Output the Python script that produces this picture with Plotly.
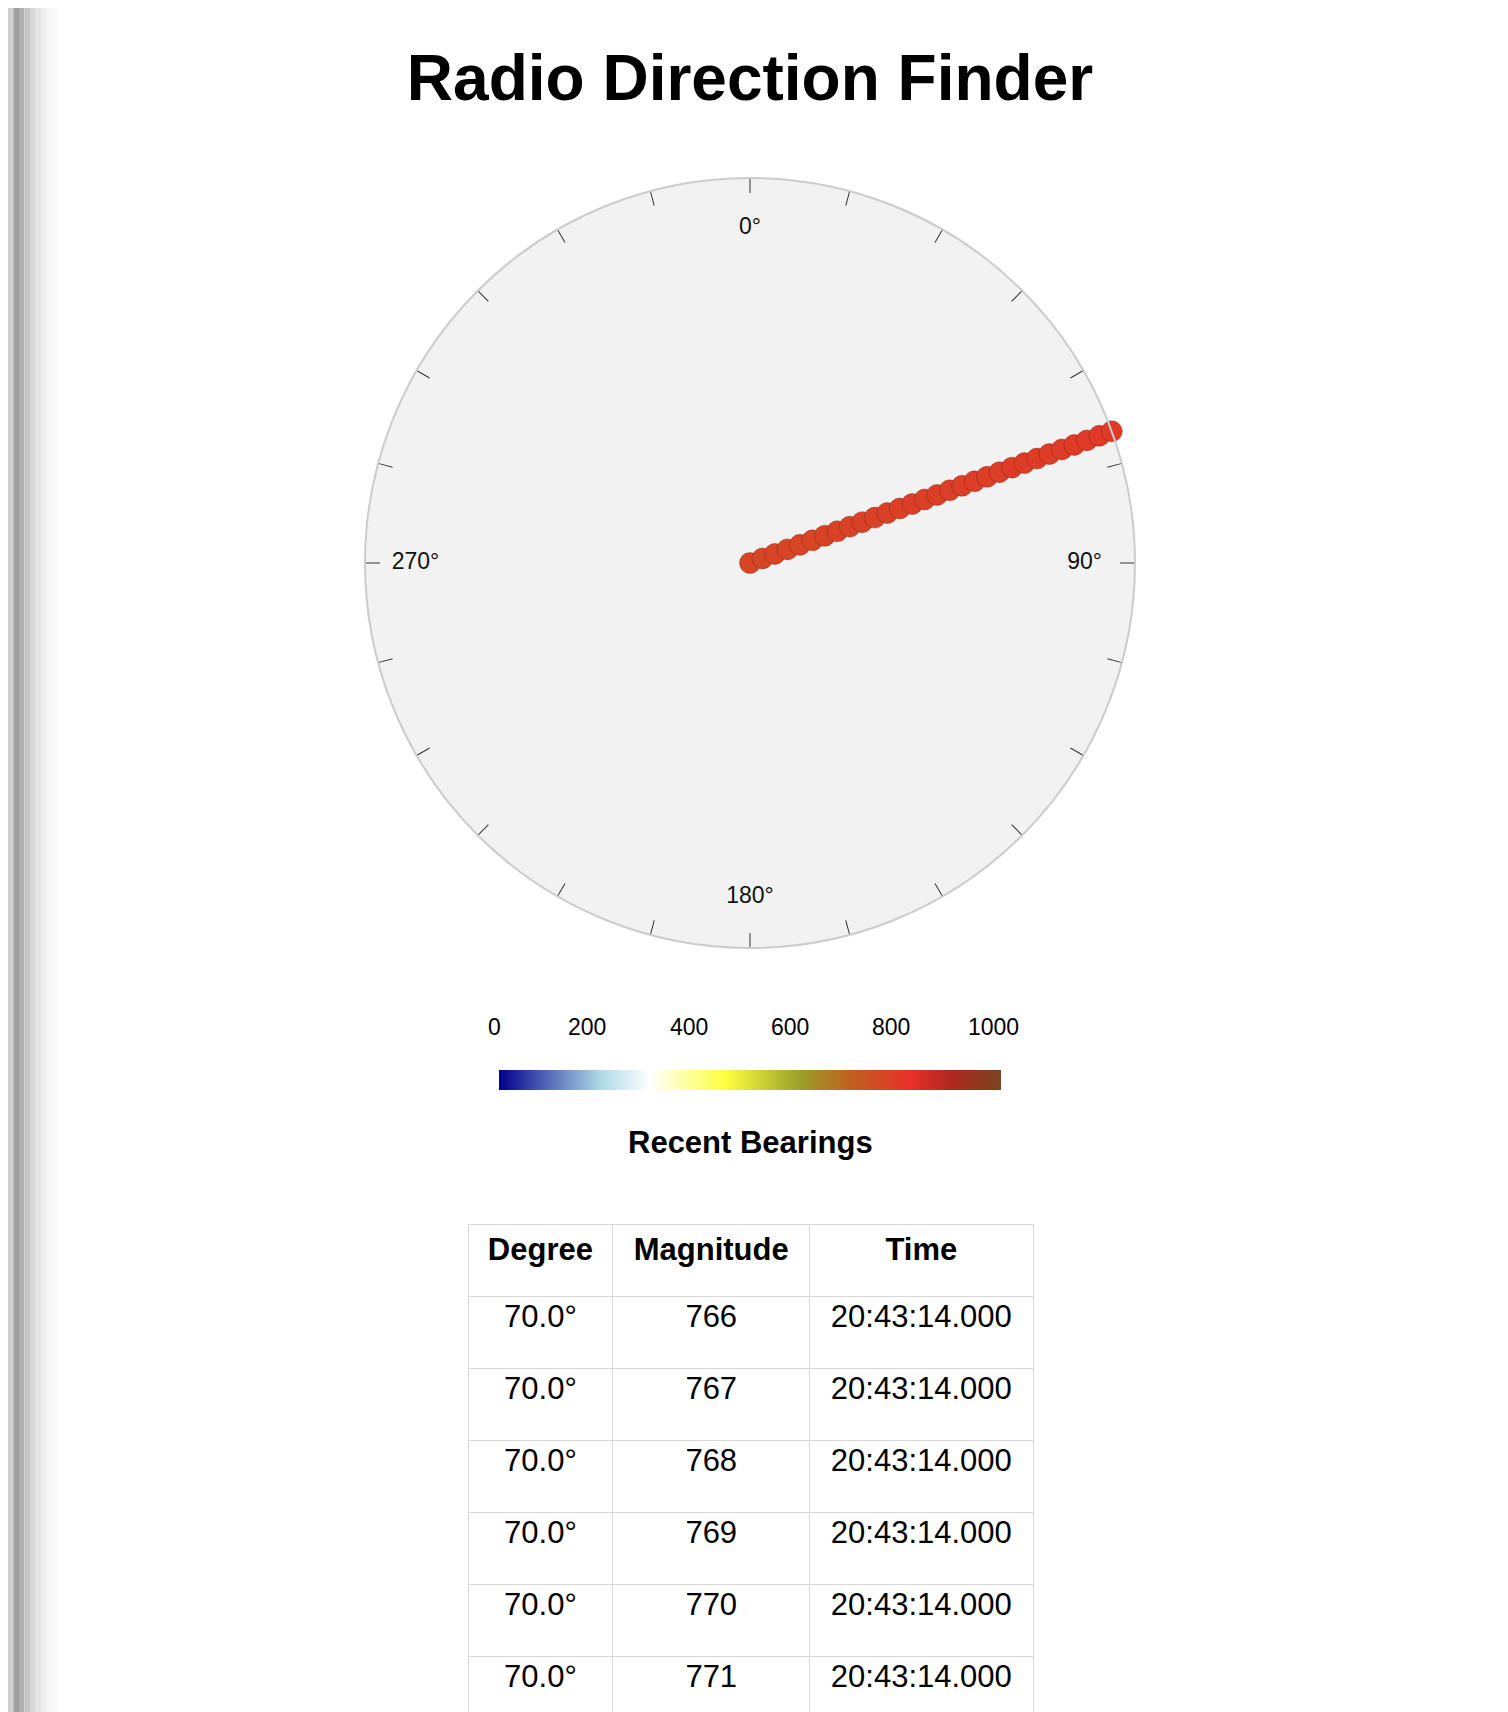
import plotly.graph_objects as go

# --- data ---
bearing_deg = 70.0
marker_r = [0, 1, 2, 3, 4, 5, 6, 7, 8, 9, 10, 11, 12, 13, 14, 15, 16, 17, 18, 19,
            20, 21, 22, 23, 24, 25, 26, 27, 28, 29]
marker_mag = [766, 767, 768, 769, 770, 771, 772, 773, 774, 775, 776, 777, 778, 779, 780,
              781, 782, 783, 784, 785, 786, 787, 788, 789, 790, 791, 792, 793, 794, 795]
cardinal_angles = [0, 90, 180, 270]
cardinal_labels = ["0°", "90°", "180°", "270°"]
cbar_ticks = ["0", "200", "400", "600", "800", "1000"]

tbl_header = ["Degree", "Magnitude", "Time"]
tbl_degree = ["70.0°", "70.0°", "70.0°", "70.0°", "70.0°", "70.0°"]
tbl_mag = ["766", "767", "768", "769", "770", "771"]
tbl_time = ["20:43:14.000"] * 6

W, H = 1508, 1712
FONT = "Arial, Liberation Sans, sans-serif"

cscale = [
    [0.0, "#00008b"], [0.2, "#add8e6"], [0.3, "#ffffff"], [0.45, "#ffff40"],
    [0.6, "#9aa02a"], [0.7, "#c06020"], [0.82, "#e8302a"], [0.9, "#b02820"],
    [1.0, "#7a4520"],
]

fig = go.Figure()

fig.add_trace(go.Scatterpolar(
    r=marker_r, theta=[bearing_deg] * len(marker_r), mode="markers",
    marker=dict(size=21, color=marker_mag, colorscale=cscale, cmin=0, cmax=1000,
                line=dict(width=1, color="rgba(120,30,10,0.4)"),
                colorbar=dict(orientation="h", x=742 / W, xanchor="center",
                              y=1 - 1072 / H, yanchor="middle",
                              lenmode="pixels", len=522, thickness=20,
                              outlinewidth=0, showticklabels=False, ticks="")),
    showlegend=False, hoverinfo="skip"))

fig.add_trace(go.Scatterpolar(
    r=[25.2] * 4, theta=cardinal_angles, mode="text", text=cardinal_labels,
    textfont=dict(size=23, color="#111", family=FONT),
    showlegend=False, hoverinfo="skip"))

fig.add_trace(go.Table(
    domain=dict(x=[460 / W, 1025 / W], y=[0, 1 - 1216 / H]),
    columnwidth=[131, 178, 202],
    header=dict(values=["<b>%s</b>" % h for h in tbl_header], height=72,
                fill_color="white", line_color="#d8d8d8",
                font=dict(size=31, color="black", family=FONT), align="center"),
    cells=dict(values=[tbl_degree, tbl_mag, tbl_time], height=72,
               fill_color="white", line_color="#d8d8d8",
               font=dict(size=31, color="black", family=FONT), align="center"),
))

annotations = [
    dict(text="<b>Recent Bearings</b>", x=742 / W, y=1 - 1154 / H, xref="paper", yref="paper",
         showarrow=False, font=dict(size=31, color="black", family=FONT)),
]
for lab, px in zip(cbar_ticks, [478, 579, 681, 782, 883, 985]):
    annotations.append(dict(text=lab, x=px / W, y=1 - 1019 / H, xref="paper", yref="paper",
                            showarrow=False, font=dict(size=23, color="black", family=FONT)))

# left page shadow
shapes = []
shades = ["#d0d0d0", "#a0a0a0", "#b0b0b0", "#c4c4c4", "#d6d6d6", "#e4e4e4", "#eeeeee", "#f6f6f6", "#fbfbfb"]
for i, c in enumerate(shades):
    shapes.append(dict(type="rect", xref="paper", yref="paper", x0=i * 5.5 / W,
                       x1=(i + 1) * 5.5 / W, y0=0, y1=1, fillcolor=c, line_width=0,
                       layer="below"))

fig.update_layout(
    width=W, height=H, margin=dict(l=0, r=0, t=0, b=0),
    paper_bgcolor="white", font=dict(family=FONT),
    title=dict(text="<b>Radio Direction Finder</b>", x=742 / W, xanchor="center",
               y=1 - 70 / H, yanchor="middle", font=dict(size=64, color="black")),
    polar=dict(
        domain=dict(x=[357 / W, 1127 / W], y=[1 - 940 / H, 1 - 170 / H]),
        bgcolor="#f2f2f2",
        angularaxis=dict(rotation=90, direction="clockwise", dtick=15, ticks="inside",
                         ticklen=14, tickcolor="#333", showticklabels=False,
                         showgrid=False, linecolor="#cccccc", linewidth=2),
        radialaxis=dict(range=[0, 29], visible=False, showgrid=False),
    ),
    annotations=annotations, shapes=shapes,
)

fig.write_html("out.html")
